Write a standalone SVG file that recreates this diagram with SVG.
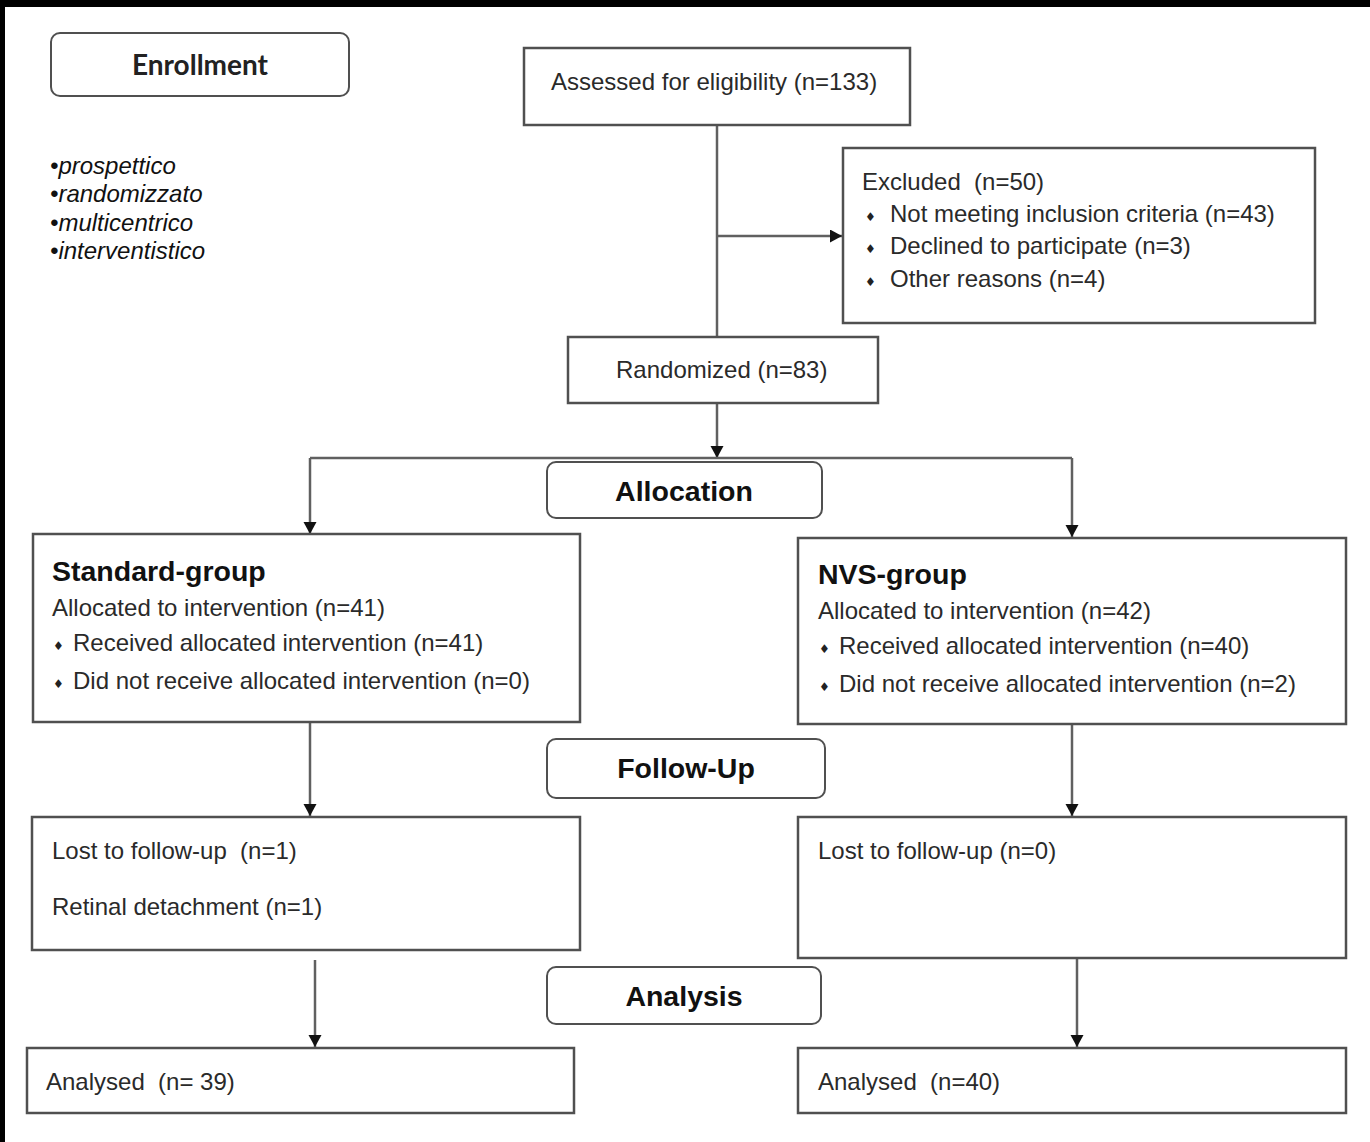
<svg xmlns="http://www.w3.org/2000/svg" width="1370" height="1142" viewBox="0 0 1370 1142">
<style>
text{white-space:pre}
.box{fill:#fff;stroke:#505050;stroke-width:2.5}
.rbox{fill:#fff;stroke:#505050;stroke-width:2}
.t{font-family:"Liberation Sans",Arial,sans-serif;font-size:24px;fill:#2a2a2a}
.b{font-family:"Liberation Sans",Arial,sans-serif;font-size:28.5px;font-weight:bold;fill:#111}
.i{font-family:"Liberation Sans",Arial,sans-serif;font-size:24px;font-style:italic;fill:#111}
.en{font-family:Lato,"Open Sans",sans-serif;font-size:28px;font-weight:bold;fill:#222}
.d{font-family:"DejaVu Sans",sans-serif;font-size:12px;fill:#222}
.ln{fill:none;stroke:#606060;stroke-width:2.5}
</style>
<defs>
<marker id="ah" markerUnits="userSpaceOnUse" markerWidth="14" markerHeight="14" refX="12" refY="6.5" orient="auto">
<path d="M0,0 L12,6.5 L0,13 z" fill="#111"/>
</marker>
</defs>
<rect x="0" y="0" width="1370" height="1142" fill="#fff"/>
<rect x="0" y="0" width="1370" height="7" fill="#000"/>
<rect x="0" y="0" width="5" height="1142" fill="#000"/>

<g id="connectors">
<line class="ln" x1="717" y1="125" x2="717" y2="337"/>
<line class="ln" x1="717" y1="236" x2="842" y2="236" marker-end="url(#ah)"/>
<line class="ln" x1="717" y1="403" x2="717" y2="458" marker-end="url(#ah)"/>
<line class="ln" x1="310" y1="458" x2="1072" y2="458"/>
<line class="ln" x1="310" y1="458" x2="310" y2="534" marker-end="url(#ah)"/>
<line class="ln" x1="1072" y1="458" x2="1072" y2="537" marker-end="url(#ah)"/>
<line class="ln" x1="310" y1="722" x2="310" y2="816" marker-end="url(#ah)"/>
<line class="ln" x1="1072" y1="724" x2="1072" y2="816" marker-end="url(#ah)"/>
<line class="ln" x1="315" y1="960" x2="315" y2="1047" marker-end="url(#ah)"/>
<line class="ln" x1="1077" y1="958" x2="1077" y2="1047" marker-end="url(#ah)"/>
</g>

<g id="enrollment">
<rect class="rbox" x="51" y="33" width="298" height="63" rx="9"/>
<text class="en" x="200" y="75" text-anchor="middle">Enrollment</text>
</g>

<g id="design">
<text class="i" x="50" y="173.5">•prospettico</text>
<text class="i" x="50" y="201.5">•randomizzato</text>
<text class="i" x="50" y="230.5">•multicentrico</text>
<text class="i" x="50" y="258.5">•interventistico</text>
</g>

<g id="assessed">
<rect class="box" x="524" y="48" width="386" height="77"/>
<text class="t" x="551" y="90">Assessed for eligibility (n=133)</text>
</g>

<g id="excluded">
<rect class="box" x="843" y="148" width="472" height="175"/>
<text class="t" x="862" y="189.5">Excluded  (n=50)</text>
<text class="d" x="865" y="221">♦</text>
<text class="t" x="890" y="221.5">Not meeting inclusion criteria (n=43)</text>
<text class="d" x="865" y="253">♦</text>
<text class="t" x="890" y="253.5">Declined to participate (n=3)</text>
<text class="d" x="865" y="286">♦</text>
<text class="t" x="890" y="286.5">Other reasons (n=4)</text>
</g>

<g id="randomized">
<rect class="box" x="568" y="337" width="310" height="66"/>
<text class="t" x="616" y="378">Randomized (n=83)</text>
</g>

<g id="allocation">
<rect class="rbox" x="547" y="462" width="275" height="56" rx="9"/>
<text class="b" x="684" y="501" text-anchor="middle">Allocation</text>
</g>

<g id="standard-group">
<rect class="box" x="33" y="534" width="547" height="188"/>
<text class="b" x="52" y="581">Standard-group</text>
<text class="t" x="52" y="615.5">Allocated to intervention (n=41)</text>
<text class="d" x="53" y="650">♦</text>
<text class="t" x="73" y="650.5">Received allocated intervention (n=41)</text>
<text class="d" x="53" y="688">♦</text>
<text class="t" x="73" y="688.5">Did not receive allocated intervention (n=0)</text>
</g>

<g id="nvs-group">
<rect class="box" x="798" y="538" width="548" height="186"/>
<text class="b" x="818" y="584">NVS-group</text>
<text class="t" x="818" y="618.5">Allocated to intervention (n=42)</text>
<text class="d" x="819" y="653">♦</text>
<text class="t" x="839" y="653.5">Received allocated intervention (n=40)</text>
<text class="d" x="819" y="691">♦</text>
<text class="t" x="839" y="691.5">Did not receive allocated intervention (n=2)</text>
</g>

<g id="follow-up">
<rect class="rbox" x="547" y="739" width="278" height="59" rx="9"/>
<text class="b" x="686" y="778" text-anchor="middle">Follow-Up</text>
</g>

<g id="lost-standard">
<rect class="box" x="32" y="817" width="548" height="133"/>
<text class="t" x="52" y="858.5">Lost to follow-up  (n=1)</text>
<text class="t" x="52" y="914.5">Retinal detachment (n=1)</text>
</g>

<g id="lost-nvs">
<rect class="box" x="798" y="817" width="548" height="141"/>
<text class="t" x="818" y="858.5">Lost to follow-up (n=0)</text>
</g>

<g id="analysis">
<rect class="rbox" x="547" y="967" width="274" height="57" rx="9"/>
<text class="b" x="684" y="1006" text-anchor="middle">Analysis</text>
</g>

<g id="analysed-standard">
<rect class="box" x="27" y="1048" width="547" height="65"/>
<text class="t" x="46" y="1089.5">Analysed  (n= 39)</text>
</g>

<g id="analysed-nvs">
<rect class="box" x="798" y="1048" width="548" height="65"/>
<text class="t" x="818" y="1089.5">Analysed  (n=40)</text>
</g>
</svg>
